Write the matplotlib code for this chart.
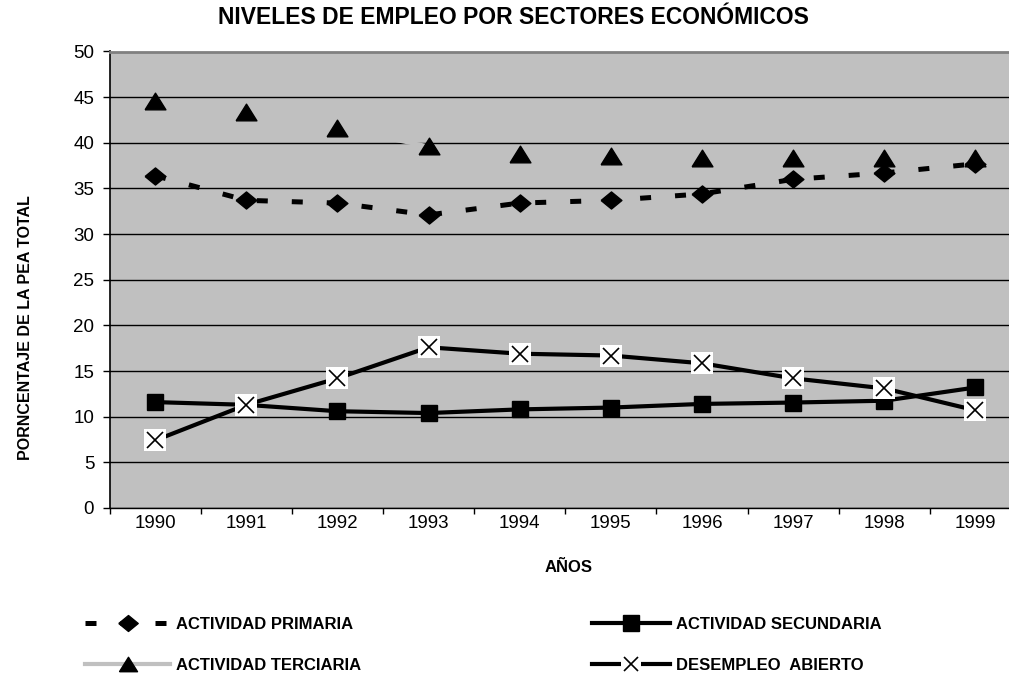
import numpy as np
import matplotlib
matplotlib.use("Agg")
import matplotlib.pyplot as plt
from matplotlib.lines import Line2D
from matplotlib.legend_handler import HandlerTuple

plt.rcParams['font.family'] = ['Liberation Sans', 'DejaVu Sans']

# ---- data ----
years = ['1990', '1991', '1992', '1993', '1994', '1995', '1996', '1997', '1998', '1999']
primaria = [36.4, 33.7, 33.4, 32.1, 33.4, 33.7, 34.4, 36.0, 36.7, 37.7]
secundaria = [11.6, 11.3, 10.6, 10.4, 10.8, 11.0, 11.4, 11.55, 11.75, 13.2]
terciaria = [44.6, 43.4, 41.6, 39.6, 38.8, 38.5, 38.3, 38.3, 38.3, 38.3]
desempleo = [7.4, 11.3, 14.2, 17.6, 16.9, 16.7, 15.85, 14.2, 13.1, 10.7]
series_names = ['ACTIVIDAD PRIMARIA', 'ACTIVIDAD SECUNDARIA',
                'ACTIVIDAD TERCIARIA', 'DESEMPLEO  ABIERTO']
yticks = list(range(0, 55, 5))
title = 'NIVELES DE EMPLEO POR SECTORES ECONÓMICOS'
xlabel = 'AÑOS'
ylabel = 'PORNCENTAJE DE LA PEA TOTAL'

W, H = 1009, 676
fig = plt.figure(figsize=(W / 100, H / 100), dpi=100)

# plot area in pixels (extends past right edge like the reference)
L, R, T, B = 109.5, 1021, 51.5, 508
ax = fig.add_axes([L / W, 1 - B / H, (R - L) / W, (B - T) / H])
ax.set_facecolor('#C0C0C0')
ax.set_xlim(0, len(years))
ax.set_ylim(0, 50)

x = np.arange(len(years)) + 0.5

# grid
ax.set_yticks(yticks)
ax.yaxis.grid(True, color='black', lw=1)
ax.set_axisbelow(True)

# spines
ax.spines['right'].set_visible(False)
ax.spines['top'].set_color('#808080')
ax.spines['top'].set_linewidth(2)
ax.spines['left'].set_color('black')
ax.spines['left'].set_linewidth(1.2)
ax.spines['bottom'].set_color('black')
ax.spines['bottom'].set_linewidth(1)

# ticks
ax.set_xticks(np.arange(0, len(years) + 1))
ax.set_xticklabels([])
ax.set_xticks(x, minor=True)
ax.set_xticklabels(years, minor=True, fontsize=13.5)
ax.tick_params(axis='x', which='major', direction='out', length=4, width=1, color='black')
ax.tick_params(axis='x', which='minor', length=0, pad=5)
ax.tick_params(axis='y', direction='out', length=5, width=1, color='black',
               labelsize=13.5, pad=6)

# marker shapes
diamond = [(-1, 0), (0, 0.82), (1, 0), (0, -0.82), (-1, 0)]
triangle = [(-1, -0.8), (1, -0.8), (0, 0.8), (-1, -0.8)]

# lines
ax.plot(x, primaria, color='black', lw=3.6, dashes=(2.2, 4.8), dash_capstyle='butt',
        zorder=2)
ax.plot(x, secundaria, color='black', lw=3, zorder=2)
ax.plot(x, terciaria, color='#C0C0C0', lw=3, zorder=2.1)
ax.plot(x, desempleo, color='black', lw=3, zorder=2.2)

# markers
ax.plot(x, primaria, ls='none', marker=diamond, ms=15, color='black', zorder=3)
ax.plot(x, secundaria, ls='none', marker='s', ms=12, mfc='black', mec='black',
        mew=1, zorder=3.1)
ax.plot(x, terciaria, ls='none', marker=triangle, ms=15, color='black', zorder=3.2)
ax.plot(x, desempleo, ls='none', marker='s', ms=16.5, mfc='white', mec='white',
        mew=0, zorder=3.3)
ax.plot(x, desempleo, ls='none', marker='x', ms=12, mec='black', mew=1.2, zorder=3.4)

# texts
fig.text(513 / W, 1 - 18 / H, title, ha='center', va='center',
         fontsize=16.5, fontweight='bold')
ax.set_xlabel(xlabel, fontsize=12, fontweight='bold', va='center')
ax.xaxis.set_label_coords((569 - L) / (R - L), -(567 - B) / (B - T))
ax.set_ylabel(ylabel, fontsize=11.5, fontweight='bold', va='center', ha='left')
ax.yaxis.set_label_coords(-(109.5 - 25) / (R - L), (B - 460) / (B - T))

# legends
h_prim = Line2D([], [], color='black', lw=3.6, dashes=(2.2, 4.8), dash_capstyle='butt',
                marker=diamond, ms=14, mfc='black', mec='black')
h_terc = Line2D([], [], color='#C0C0C0', lw=3, marker=triangle, ms=13,
                mfc='black', mec='black')
h_sec = Line2D([], [], color='black', lw=3, marker='s', ms=11, mfc='black', mec='black')
h_des1 = Line2D([], [], color='black', lw=3, marker='s', ms=14, mfc='white',
                mec='white', mew=0)
h_des2 = Line2D([], [], ls='none', marker='x', ms=10, mec='black', mew=1.2)

common = dict(frameon=False, borderpad=0, borderaxespad=0, handletextpad=0.35,
              labelspacing=1.55, prop={'size': 12, 'weight': 'bold'}, numpoints=1)
leg1 = fig.legend([h_prim, h_terc], [series_names[0], series_names[2]],
                  loc='upper left', bbox_to_anchor=(85 / W, 1 - 617 / H),
                  handlelength=5.1, **common)
leg2 = fig.legend([h_sec, (h_des1, h_des2)], [series_names[1], series_names[3]],
                  loc='upper left', bbox_to_anchor=(592 / W, 1 - 617 / H),
                  handlelength=4.7, handler_map={tuple: HandlerTuple(ndivide=1)},
                  **common)

fig.savefig('out.png', dpi=100)
